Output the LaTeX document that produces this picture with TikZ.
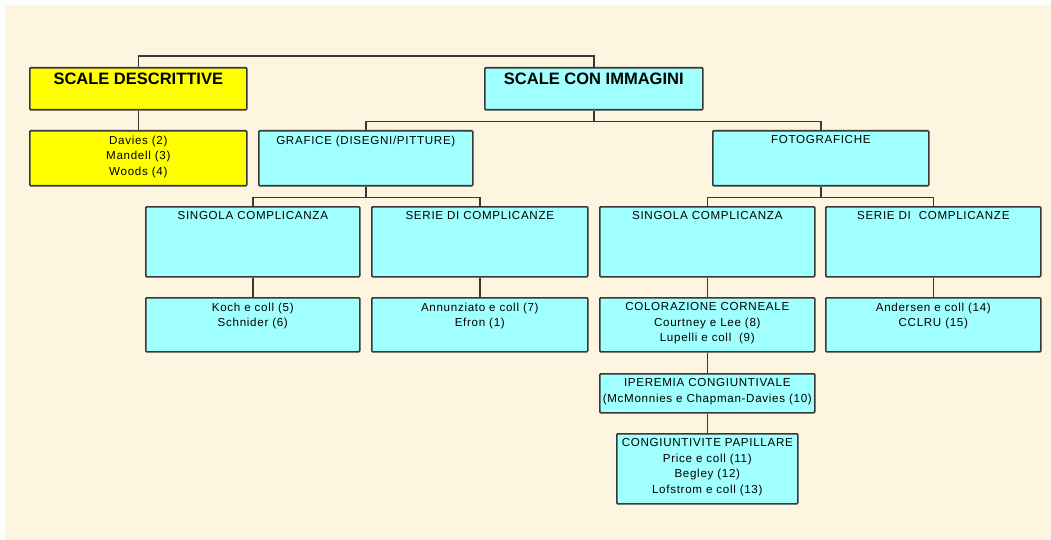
\documentclass[tikz,border=0pt]{standalone}
\usepackage{fontspec}
\setmainfont{Liberation Sans}
\newfontfamily\boxfont[LetterSpace=6]{Liberation Sans}
\usetikzlibrary{positioning}
\definecolor{cream}{HTML}{FEF5E0}
\definecolor{cyanbox}{HTML}{A0FFFF}
\definecolor{yellowbox}{HTML}{FFFF00}
\definecolor{edge}{HTML}{383838}
\tikzstyle{box}=[draw=edge,line width=1.6pt,anchor=north west,inner sep=0pt,rounded corners=1pt]
\tikzstyle{cbox}=[box,fill=cyanbox]
\tikzstyle{ybox}=[box,fill=yellowbox]
\tikzstyle{txt}=[anchor=north,align=center,inner sep=0pt,yshift=-5.5pt,font=\boxfont\fontsize{11.6}{15.5}\selectfont]
\tikzstyle{ttl}=[txt,yshift=0pt,font=\fontsize{16.5}{19}\selectfont\bfseries]
\tikzstyle{link}=[draw=edge,line width=1.6pt]

\begin{document}
\begin{tikzpicture}[x=1pt,y=-1pt]
  \useasboundingbox (0,0) rectangle (1051,540);
  \fill[white] (0,0) rectangle (1051,540);
  \fill[cream] (5,5) rectangle (1051,540);

  % top level
  \node[ybox,minimum width=217pt,minimum height=42pt,
        label={[ttl]north:SCALE DESCRITTIVE}] (sd) at (29,67) {};
  \node[cbox,minimum width=218pt,minimum height=42pt,
        label={[ttl]north:SCALE CON IMMAGINI}] (sci) at (484,67) {};

  % second level
  \node[ybox,minimum width=217pt,minimum height=55pt,
        label={[txt]north:Davies (2)\\Mandell (3)\\Woods (4)}] (dav) at (29,130) {};
  \node[cbox,minimum width=214pt,minimum height=55pt,
        label={[txt]north:GRAFICE (DISEGNI/PITTURE)}] (graf) at (258,130) {};
  \node[cbox,minimum width=216pt,minimum height=55pt,
        label={[txt]north:FOTOGRAFICHE}] (foto) at (712,130) {};

  % third level
  \node[cbox,minimum width=214pt,minimum height=70pt,
        label={[txt]north:SINGOLA COMPLICANZA}] (gsing) at (145,206) {};
  \node[cbox,minimum width=216pt,minimum height=70pt,
        label={[txt]north:SERIE DI COMPLICANZE}] (gser) at (371,206) {};
  \node[cbox,minimum width=215pt,minimum height=70pt,
        label={[txt]north:SINGOLA COMPLICANZA}] (fsing) at (599,206) {};
  \node[cbox,minimum width=215pt,minimum height=70pt,
        label={[txt]north:SERIE DI\ \ COMPLICANZE}] (fser) at (825,206) {};

  % references
  \node[cbox,minimum width=214pt,minimum height=54pt,
        label={[txt]north:Koch e coll (5)\\Schnider (6)}] (koch) at (145,297) {};
  \node[cbox,minimum width=216pt,minimum height=54pt,
        label={[txt]north:Annunziato e coll (7)\\Efron (1)}] (ann) at (371,297) {};
  \node[cbox,minimum width=215pt,minimum height=54pt,
        label={[txt]north:COLORAZIONE CORNEALE\\Courtney e Lee (8)\\Lupelli e coll\ \ (9)}] (color) at (599,297) {};
  \node[cbox,minimum width=215pt,minimum height=54pt,
        label={[txt]north:Andersen e coll (14)\\CCLRU (15)}] (ander) at (825,297) {};
  \node[cbox,minimum width=215pt,minimum height=39pt,
        label={[txt]north:IPEREMIA CONGIUNTIVALE\\(McMonnies e Chapman-Davies (10)}] (iper) at (599,373) {};
  \node[cbox,minimum width=181pt,minimum height=70pt,
        label={[txt]north:CONGIUNTIVITE PAPILLARE\\Price e coll (11)\\Begley (12)\\Lofstrom e coll (13)}] (cong) at (616,433) {};

  % connectors
  \draw[link] (sd.north) -- ++(0,-11) -| (sci.north);
  \draw[link] (sd.south) -- (dav.north);
  \draw[link] (sci.south) -- ++(0,11) -| (graf.north);
  \draw[link] (sci.south) ++(0,11) -| (foto.north);
  \draw[link] (graf.south) -- ++(0,11) -| (gsing.north);
  \draw[link] (graf.south) ++(0,11) -| (gser.north);
  \draw[link] (foto.south) -- ++(0,11) -| (fsing.north);
  \draw[link] (foto.south) ++(0,11) -| (fser.north);
  \draw[link] (gsing.south) -- (koch.north);
  \draw[link] (gser.south) -- (ann.north);
  \draw[link] (fsing.south) -- (color.north);
  \draw[link] (fser.south) -- (ander.north);
  \draw[link] (color.south) -- (iper.north);
  \draw[link] (iper.south) -- (cong.north);
\end{tikzpicture}
\end{document}
